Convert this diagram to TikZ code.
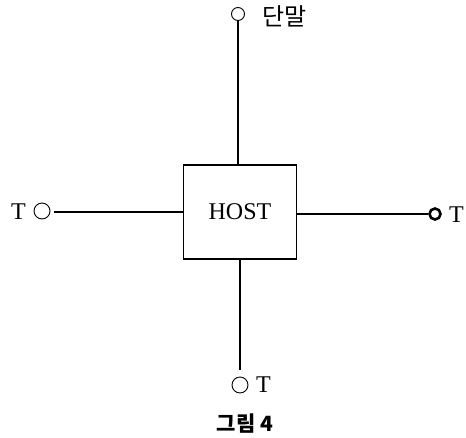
\documentclass[tikz,border=0pt]{standalone}
\usepackage{fontspec}
\setmainfont{Liberation Serif}
\newfontfamily\krfont{Noto Sans CJK KR}
\begin{document}
\begin{tikzpicture}[x=1pt, y=-1pt,
    term/.style={circle, draw, line width=0.9pt, minimum size=14pt, inner sep=0pt},
    tlabel/.style={inner sep=0pt, font=\fontsize{24}{24}\selectfont},
    link/.style={line width=1.4pt}]
    \useasboundingbox (0,0) rectangle (466,437);

    % HOST
    \node[draw, line width=1.6pt, minimum width=113pt, minimum height=94pt,
          font=\fontsize{24}{24}\selectfont] (host) at (240,212) {HOST};

    % top terminal
    \node[term, minimum size=13pt] (ttop) at (238,14) {};
    \node[anchor=west, inner sep=0pt, font=\krfont\fontsize{24}{24}\selectfont] (ltop) at (262,16) {단말};
    \draw[link] (ttop) -- (ttop |- host.north);

    % left terminal
    \node[term, minimum size=16pt] (tleft) at (42,211) {};
    \node[tlabel, anchor=east] (lleft) at (26,212) {T};
    \draw[link] (tleft.east) ++(4,1) coordinate (cleft);
    \draw[link] (cleft) -- (cleft -| host.west);

    % right terminal
    \node[term, line width=2.6pt, minimum size=11pt] (tright) at (435,214) {};
    \node[tlabel, anchor=west] (lright) at (449,215) {T};
    \draw[link] (host.east |- tright) -- (tright);

    % bottom terminal
    \node[term, minimum size=16pt] (tbot) at (240,385) {};
    \node[tlabel, anchor=west] (lbot) at (256,385) {T};
    \draw[link] (host.south) -- ++(0,110) coordinate (cbot);

    % caption
    \node[inner sep=0pt, font=\krfont\bfseries\fontsize{21}{21}\selectfont] (cap) at (245,424) {그림 4};
\end{tikzpicture}
\end{document}
